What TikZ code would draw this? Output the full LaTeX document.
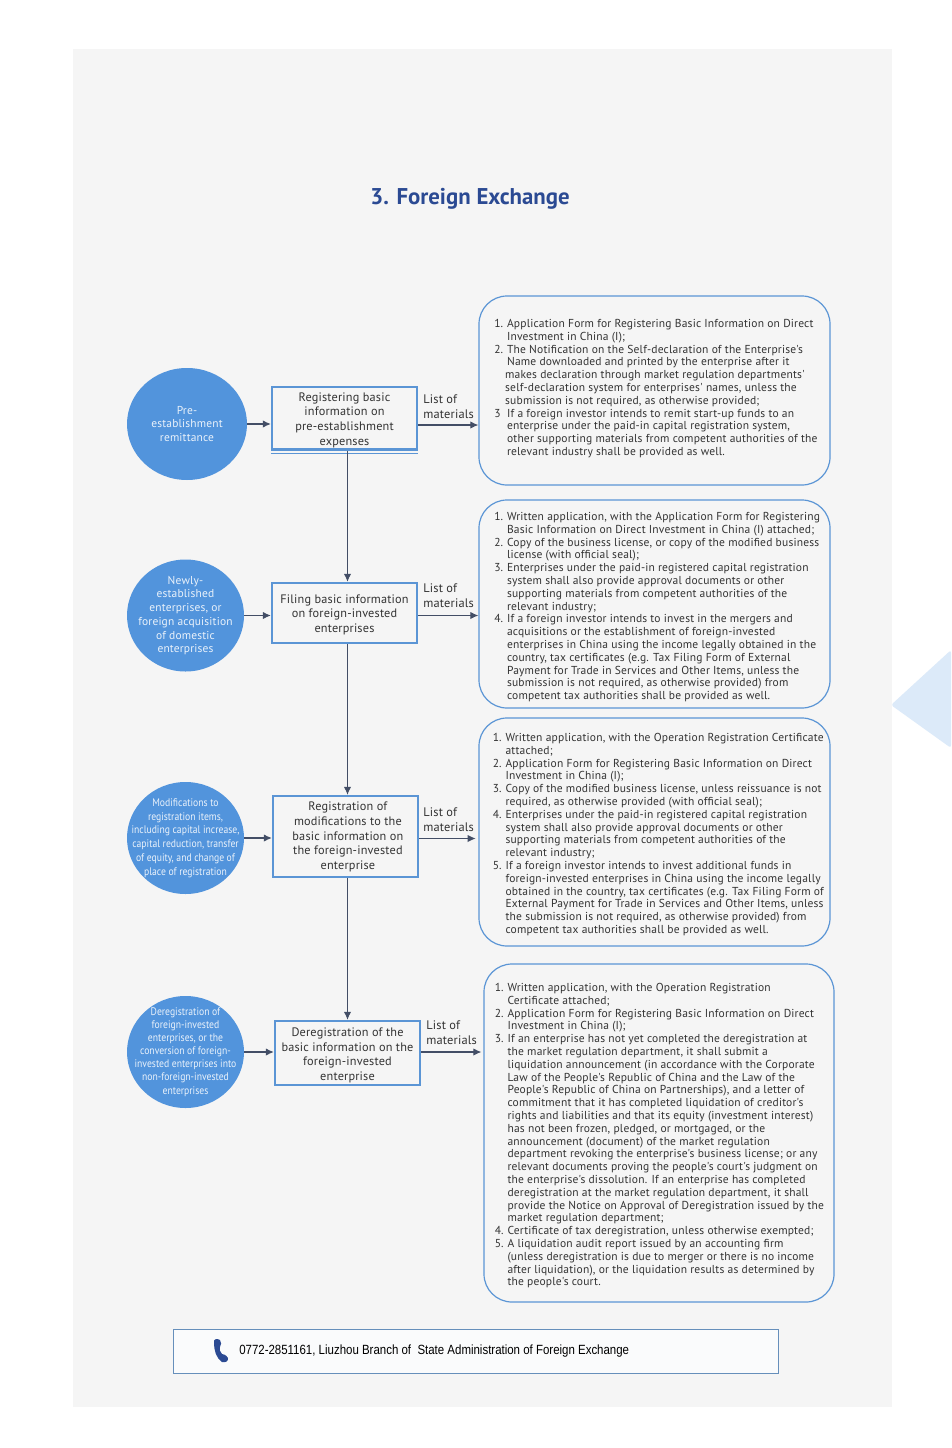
\documentclass[tikz,border=0pt]{standalone}
\usepackage{fontspec}
\usetikzlibrary{arrows.meta,positioning,shapes.geometric}
\newfontfamily\dinfont[LetterSpace=1.5]{PT Sans}
\newfontfamily\dinnarrow[FakeStretch=0.88]{PT Sans}
\newfontfamily\phonefont[FakeStretch=0.86]{Liberation Sans}
\definecolor{panelgray}{HTML}{F5F5F5}
\definecolor{arrowblue}{HTML}{DCEAF9}
\definecolor{circblue}{HTML}{5294DC}
\definecolor{boxblue}{HTML}{5B95D5}
\definecolor{flowdark}{HTML}{434E66}
\definecolor{titleblue}{HTML}{2B4A93}
\definecolor{bodygray}{HTML}{333333}
\newcommand{\mno}[1]{\makebox[9.6pt][l]{#1}}
\newcommand{\mnb}{\makebox[8.2pt][l]{}}
\tikzset{
  circnode/.style={ellipse,fill=circblue,inner sep=0pt,minimum width=87.75pt,minimum height=84pt},
  circtext/.style={text=white!88!circblue,inner sep=0pt,align=center,font=\dinfont\fontsize{8.6}{10.3}\selectfont},
  circsmall/.style={circtext,font=\dinnarrow\fontsize{8.24}{#1}\selectfont},
  stepbox/.style={draw=boxblue,line width=1.7pt,inner sep=0pt,minimum width=108.75pt},
  steptext/.style={inner sep=0pt,align=center,yshift=-1.3pt,text=bodygray,font=\dinfont\fontsize{9.2}{11}\selectfont},
  listbox/.style={draw=boxblue,line width=0.9pt,rounded corners=21pt,inner sep=0pt},
  listtext/.style={anchor=north west,inner sep=0pt,align=left,text=bodygray,
    font=\dinfont\fontsize{8.65}{9.6}\selectfont},
  matlabel/.style={anchor=west,inner sep=0pt,align=left,text=bodygray,
    font=\dinfont\fontsize{9.3}{11}\selectfont},
  flow/.style={draw=flowdark,line width=0.85pt,-{Latex[length=6pt,width=5.5pt]}}
}
\begin{document}
\begin{tikzpicture}[x=0.75pt,y=-0.75pt]
\useasboundingbox (0,0) rectangle (951,1448);
\fill[white] (0,0) rectangle (951,1448);
\fill[panelgray] (73,49) rectangle (892,1407);
\fill[arrowblue,rounded corners=2pt] (951,650) -- (891,705) -- (951,748) -- cycle;
\node[inner sep=0pt,text=titleblue,font=\fontspec{PT Sans Bold}\fontsize{17.1}{19}\selectfont] (title) at (470,198.5) {3. Foreign Exchange};
\node[circnode,minimum width=90pt,label={[circtext]center:Pre-\\establishment\\remittance}] (c1) at (187,424) {};
\node[circnode,label={[circtext]center:Newly-\\established\\enterprises, or\\foreign acquisition\\of domestic\\enterprises}] (c2) at (185.5,615.5) {};
\node[circnode,label={[circsmall=10.3]center:Modifications to\\registration items,\\including capital increase,\\capital reduction, transfer\\of equity, and change of\\place of registration}] (c3) at (185.5,838) {};
\node[circnode,label={[circsmall=9.8]center:Deregistration of\\foreign-invested\\enterprises, or the\\conversion of foreign-\\invested enterprises into\\non-foreign-invested\\enterprises}] (c4) at (185.5,1052) {};
\node[stepbox,minimum height=46.9pt,label={[steptext]center:Registering basic\\information on\\pre-establishment\\expenses}] (b1) at (344.5,418.3) {};
\node[stepbox,minimum height=45pt,label={[steptext]center:Filing basic information\\on foreign-invested\\enterprises}] (b2) at (344.5,613) {};
\node[stepbox,minimum height=60.7pt,label={[steptext,xshift=1.8pt,yshift=0.8pt]center:Registration of\\modifications to the\\basic information on\\the foreign-invested\\enterprise}] (b3) at (345.5,836.5) {};
\node[stepbox,minimum height=48pt,label={[steptext,yshift=-0.4pt]center:Deregistration of the\\basic information on the\\foreign-invested\\enterprise}] (b4) at (347.5,1053) {};
\draw[boxblue,line width=0.6pt] ([yshift=-1.7pt]b1.south west) -- ([yshift=-1.7pt]b1.south east);
\node[listbox,minimum width=263.25pt,minimum height=141.75pt] (l1) at (654.5,390.5) {};
\node[listbox,minimum width=263.25pt,minimum height=156pt] (l2) at (654.5,604) {};
\node[listbox,minimum width=263.25pt,minimum height=171pt] (l3) at (654.5,832) {};
\node[listbox,minimum width=262.5pt,minimum height=253.5pt] (l4) at (659,1133) {};
\node[matlabel] (m1) at (423,406.5) {List of\\materials};
\node[matlabel] (m2) at (423,595.5) {List of\\materials};
\node[matlabel] (m3) at (423,819.5) {List of\\materials};
\node[matlabel] (m4) at (426,1032.5) {List of\\materials};
\coordinate (trunk) at (347.5,0);
\draw[flow] (c1.east) -- (c1.east -| b1.west);
\draw[flow] (c2.east) -- (c2.east -| b2.west);
\draw[flow] (c3.east) -- (c3.east -| b3.west);
\draw[flow] (c4.east) -- (c4.east -| b4.west);
\draw[flow] (b1.south -| trunk) -- (b2.north -| trunk);
\draw[flow] (b2.south -| trunk) -- (b3.north -| trunk);
\draw[flow] (b3.south -| trunk) -- (b4.north -| trunk);
\draw[flow] (b1.east |- 0,425) -- (l1.west |- 0,425);
\draw[flow] (b2.east |- c2.east) -- (l2.west |- c2.east);
\draw[flow,shorten >=2pt] (b3.east |- 0,838.5) -- (l3.west |- 0,838.5);
\draw[flow,shorten >=1.5pt] (b4.east |- c4.east) -- (l4.west |- c4.east);
\node[listtext] (t1) at (494,319) {\mno{1.}Application Form for Registering Basic Information on Direct\\
\mno{}Investment in China (I);\\
\mno{2.}The Notification on the Self-declaration of the Enterprise's\\
\mno{}Name downloaded and printed by the enterprise after it\\
\mnb makes declaration through market regulation departments'\\
\mnb self-declaration system for enterprises' names, unless the\\
\mnb submission is not required, as otherwise provided;\\
\mno{3}If a foreign investor intends to remit start-up funds to an\\
\mno{}enterprise under the paid-in capital registration system,\\
\mno{}other supporting materials from competent authorities of the\\
\mno{}relevant industry shall be provided as well.};
\node[listtext] (t2) at (494,512) {\mno{1.}Written application, with the Application Form for Registering\\
\mno{}Basic Information on Direct Investment in China (I) attached;\\
\mno{2.}Copy of the business license, or copy of the modified business\\
\mno{}license (with official seal);\\
\mno{3.}Enterprises under the paid-in registered capital registration\\
\mno{}system shall also provide approval documents or other\\
\mno{}supporting materials from competent authorities of the\\
\mno{}relevant industry;\\
\mno{4.}If a foreign investor intends to invest in the mergers and\\
\mno{}acquisitions or the establishment of foreign-invested\\
\mno{}enterprises in China using the income legally obtained in the\\
\mno{}country, tax certificates (e.g. Tax Filing Form of External\\
\mno{}Payment for Trade in Services and Other Items, unless the\\
\mno{}submission is not required, as otherwise provided) from\\
\mno{}competent tax authorities shall be provided as well.};
\node[listtext] (t3) at (492.5,733) {\mno{1.}Written application, with the Operation Registration Certificate\\
\mno{}attached;\\
\mno{2.}Application Form for Registering Basic Information on Direct\\
\mno{}Investment in China (I);\\
\mno{3.}Copy of the modified business license, unless reissuance is not\\
\mno{}required, as otherwise provided (with official seal);\\
\mno{4.}Enterprises under the paid-in registered capital registration\\
\mno{}system shall also provide approval documents or other\\
\mno{}supporting materials from competent authorities of the\\
\mno{}relevant industry;\\
\mno{5.}If a foreign investor intends to invest additional funds in\\
\mno{}foreign-invested enterprises in China using the income legally\\
\mno{}obtained in the country, tax certificates (e.g. Tax Filing Form of\\
\mno{}External Payment for Trade in Services and Other Items, unless\\
\mno{}the submission is not required, as otherwise provided) from\\
\mno{}competent tax authorities shall be provided as well.};
\node[listtext] (t4) at (494.5,983) {\mno{1.}Written application, with the Operation Registration\\
\mno{}Certificate attached;\\
\mno{2.}Application Form for Registering Basic Information on Direct\\
\mno{}Investment in China (I);\\
\mno{3.}If an enterprise has not yet completed the deregistration at\\
\mno{}the market regulation department, it shall submit a\\
\mno{}liquidation announcement (in accordance with the Corporate\\
\mno{}Law of the People's Republic of China and the Law of the\\
\mno{}People's Republic of China on Partnerships), and a letter of\\
\mno{}commitment that it has completed liquidation of creditor's\\
\mno{}rights and liabilities and that its equity (investment interest)\\
\mno{}has not been frozen, pledged, or mortgaged, or the\\
\mno{}announcement (document) of the market regulation\\
\mno{}department revoking the enterprise's business license; or any\\
\mno{}relevant documents proving the people's court's judgment on\\
\mno{}the enterprise's dissolution. If an enterprise has completed\\
\mno{}deregistration at the market regulation department, it shall\\
\mno{}provide the Notice on Approval of Deregistration issued by the\\
\mno{}market regulation department;\\
\mno{4.}Certificate of tax deregistration, unless otherwise exempted;\\
\mno{5.}A liquidation audit report issued by an accounting firm\\
\mno{}(unless deregistration is due to merger or there is no income\\
\mno{}after liquidation), or the liquidation results as determined by\\
\mno{}the people's court.};
\draw[draw=boxblue!70!gray,line width=0.6pt,fill=panelgray!70!arrowblue!30!white] (173,1329) rectangle (778,1373);
\fill[titleblue] (214,1343) .. controls (213,1339) and (217,1338) .. (220,1340) .. controls (221,1342) and (222,1345) .. (220,1347) .. controls (219,1349) and (220,1352) .. (222,1354) .. controls (224,1354) and (226,1355) .. (228,1358) .. controls (229,1361) and (225,1363) .. (222,1362) .. controls (216,1358) and (214,1350) .. (214,1343) -- cycle;
\node[anchor=west,inner sep=0pt,text=black,font=\phonefont\fontsize{10}{12}\selectfont] (phone) at (239,1351) {0772-2851161, Liuzhou Branch of\ \ State Administration of Foreign Exchange};
\end{tikzpicture}
\end{document}
